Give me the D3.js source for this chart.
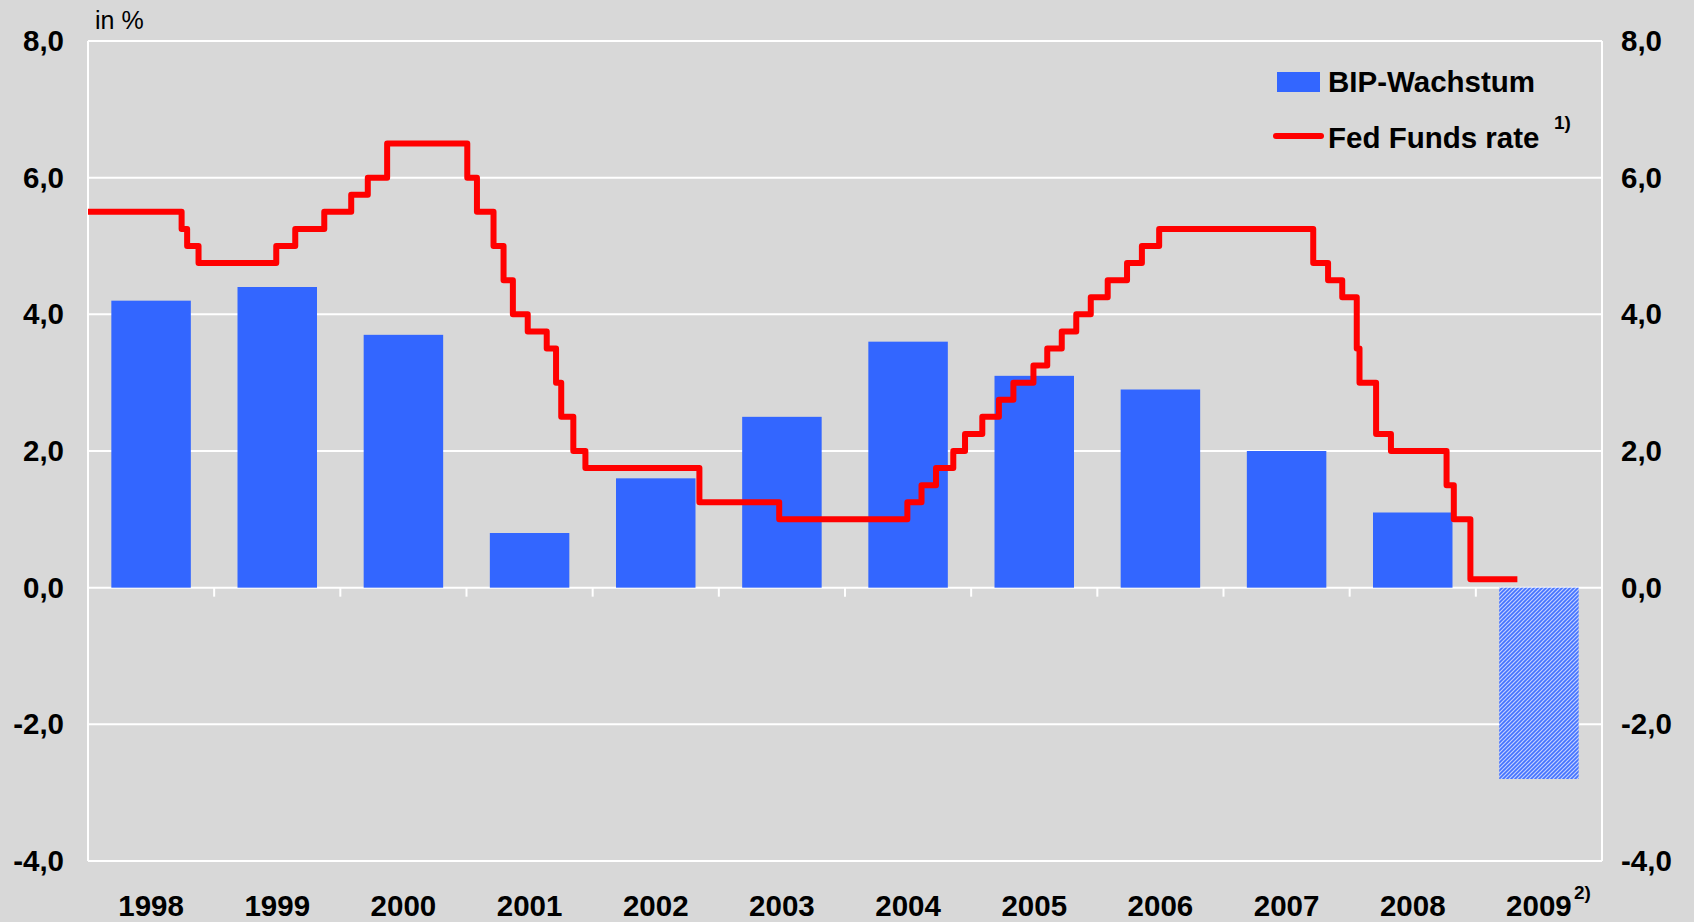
<!DOCTYPE html>
<html>
<head>
<meta charset="utf-8">
<script src="https://cdn.jsdelivr.net/npm/d3@7"></script>
<style>
	html, body { margin: 0; padding: 0; background: #d8d8d8; }
	svg { display: block; font-family: "Liberation Sans", Arial, sans-serif; }
</style>
</head>
<body>
<svg width="1694" height="922"></svg>
<script>
'use strict';
// data
let aYears = ['1998', '1999', '2000', '2001', '2002', '2003', '2004', '2005', '2006', '2007', '2008', '2009']
let aGdp = [4.2, 4.4, 3.7, 0.8, 1.6, 2.5, 3.6, 3.1, 2.9, 2.0, 1.1, -2.8]
// last year is a forecast (hatched)
let aForecast = ['2009']

// fed funds target, value from that date on
let aRateDates = [
	'1998-01-01', '1998-09-29', '1998-10-15', '1998-11-17',
	'1999-06-30', '1999-08-24', '1999-11-16',
	'2000-02-02', '2000-03-21', '2000-05-16',
	'2001-01-03', '2001-01-31', '2001-03-20', '2001-04-18', '2001-05-15', '2001-06-27',
	'2001-08-21', '2001-09-17', '2001-10-02', '2001-11-06', '2001-12-11',
	'2002-11-06', '2003-06-25',
	'2004-06-30', '2004-08-10', '2004-09-21', '2004-11-10', '2004-12-14',
	'2005-02-02', '2005-03-22', '2005-05-03', '2005-06-30', '2005-08-09', '2005-09-20',
	'2005-11-01', '2005-12-13',
	'2006-01-31', '2006-03-28', '2006-05-10', '2006-06-29',
	'2007-09-18', '2007-10-31', '2007-12-11',
	'2008-01-22', '2008-01-30', '2008-03-18', '2008-04-30', '2008-10-08', '2008-10-29',
	'2008-12-16', '2009-05-01']
let aRateValues = [
	5.5, 5.25, 5.0, 4.75,
	5.0, 5.25, 5.5,
	5.75, 6.0, 6.5,
	6.0, 5.5, 5.0, 4.5, 4.0, 3.75,
	3.5, 3.0, 2.5, 2.0, 1.75,
	1.25, 1.0,
	1.25, 1.5, 1.75, 2.0, 2.25,
	2.5, 2.75, 3.0, 3.25, 3.5, 3.75,
	4.0, 4.25,
	4.5, 4.75, 5.0, 5.25,
	4.75, 4.5, 4.25,
	3.5, 3.0, 2.25, 2.0, 1.5, 1.0,
	0.125, 0.125]

let aYTicks = [-4, -2, 0, 2, 4, 6, 8]

// layout
let eSvg = d3.select('svg')
let dLeft = 88, dRight = 1602, dTop = 41, dBottom = 861
let dFont = 29.5
let sBlue = '#3366ff', sRed = '#ff0000', sGrid = '#ffffff'

let xBand = d3.scaleBand().domain(aYears).range([dLeft, dRight])
	.paddingInner(0.37).paddingOuter(0.185)
let xTime = d3.scaleTime()
	.domain([new Date(1998, 0, 1), new Date(2010, 0, 1)])
	.range([dLeft, dRight])
let y = d3.scaleLinear().domain([-4, 8]).range([dBottom, dTop])

let fmt = v => d3.format('.1f')(v).replace('.', ',').replace('−', '-')

// hatch for the forecast bar
let ePat = eSvg.append('defs').append('pattern')
	.attr('id', 'hatch').attr('patternUnits', 'userSpaceOnUse')
	.attr('width', 4).attr('height', 4)
ePat.append('rect').attr('width', 4).attr('height', 4).attr('fill', '#4473ff')
ePat.append('path').attr('d', 'M-1,1 l2,-2 M0,4 l4,-4 M3,5 l2,-2')
	.attr('stroke', '#c2d0ff').attr('stroke-width', 1.2)

// gridlines + frame
eSvg.append('g').selectAll('line').data(aYTicks).join('line')
	.attr('x1', dLeft).attr('x2', dRight)
	.attr('y1', d => y(d)).attr('y2', d => y(d))
	.attr('stroke', sGrid).attr('stroke-width', 2)
eSvg.append('g').selectAll('line').data([dLeft, dRight]).join('line')
	.attr('x1', d => d).attr('x2', d => d)
	.attr('y1', dTop).attr('y2', dBottom)
	.attr('stroke', sGrid).attr('stroke-width', 2)

// category ticks on the zero line
let dGap = (xBand.step() - xBand.bandwidth()) / 2
eSvg.append('g').selectAll('line').data(aYears.slice(1)).join('line')
	.attr('x1', d => xBand(d) - dGap).attr('x2', d => xBand(d) - dGap)
	.attr('y1', y(0)).attr('y2', y(0) + 9)
	.attr('stroke', sGrid).attr('stroke-width', 2)

// bars
eSvg.append('g').selectAll('rect').data(aYears).join('rect')
	.attr('x', d => xBand(d))
	.attr('width', xBand.bandwidth())
	.attr('y', (d, i) => y(Math.max(0, aGdp[i])))
	.attr('height', (d, i) => Math.abs(y(aGdp[i]) - y(0)))
	.attr('fill', d => aForecast.includes(d) ? 'url(#hatch)' : sBlue)

// fed funds step line
let aRate = aRateDates.map((d, i) => ({date: d3.timeParse('%Y-%m-%d')(d), v: aRateValues[i]}))
eSvg.append('path').datum(aRate)
	.attr('d', d3.line().curve(d3.curveStepAfter).x(d => xTime(d.date)).y(d => y(d.v)))
	.attr('fill', 'none').attr('stroke', sRed).attr('stroke-width', 6)
	.attr('stroke-linejoin', 'round')

// axes
function styleAxis(g) {
	g.select('.domain').remove()
	g.selectAll('text').attr('font-size', dFont).attr('font-weight', 'bold')
		.attr('fill', '#000').attr('font-family', '"Liberation Sans", Arial, sans-serif')}

eSvg.append('g').attr('transform', `translate(${dLeft},0)`)
	.call(d3.axisLeft(y).tickValues(aYTicks).tickFormat(fmt).tickSize(0).tickPadding(24))
	.call(styleAxis)
eSvg.append('g').attr('transform', `translate(${dRight},0)`)
	.call(d3.axisRight(y).tickValues(aYTicks).tickFormat(fmt).tickSize(0).tickPadding(19))
	.call(styleAxis)
let eXAxis = eSvg.append('g').attr('transform', `translate(0,${dBottom})`)
	.call(d3.axisBottom(xBand).tickSize(0).tickPadding(34))
	.call(styleAxis)

// footnote mark on the last year
eXAxis.selectAll('.tick').filter(d => d === '2009')
	.append('text')
	.attr('x', 35).attr('y', 38)
	.attr('text-anchor', 'start')
	.attr('font-size', 19).attr('font-weight', 'bold').attr('fill', '#000')
	.attr('font-family', '"Liberation Sans", Arial, sans-serif')
	.text('2)')

// unit label
eSvg.append('text').attr('x', 95).attr('y', 29)
	.attr('font-size', 25).attr('fill', '#000').text('in %')

// legend
let eLeg = eSvg.append('g').attr('font-weight', 'bold')
eLeg.append('rect').attr('x', 1277).attr('y', 72).attr('width', 43).attr('height', 20).attr('fill', sBlue)
eLeg.append('text').attr('x', 1328).attr('y', 92)
	.attr('font-size', dFont).text('BIP-Wachstum')
eLeg.append('line').attr('x1', 1276).attr('x2', 1321).attr('y1', 136).attr('y2', 136)
	.attr('stroke', sRed).attr('stroke-width', 6).attr('stroke-linecap', 'round')
eLeg.append('text').attr('x', 1328).attr('y', 148)
	.attr('font-size', dFont).text('Fed Funds rate')
eLeg.append('text').attr('x', 1554).attr('y', 129)
	.attr('font-size', 19).text('1)')
</script>
</body>
</html>
